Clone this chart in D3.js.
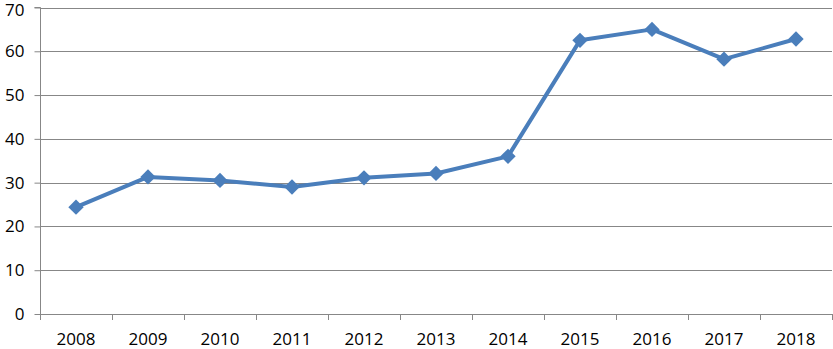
<!DOCTYPE html>
<html><head><meta charset="utf-8">
<script src="https://cdn.jsdelivr.net/npm/d3@7"></script>
<style>body{margin:0;background:#fff}svg{display:block}</style>
</head><body>
<svg id="c" width="833" height="349"></svg>
<script>
const years = ["2008","2009","2010","2011","2012","2013","2014","2015","2016","2017","2018"];
const values = [24.4, 31.3, 30.5, 29.0, 31.1, 32.1, 36.0, 62.5, 65.0, 58.2, 62.8];
const yTicks = [0,10,20,30,40,50,60,70];

(function(){
const svg = d3.select("#c");
const mLeft = 40, mRight = 832, mTop = 7.5, mBottom = 314;
const x = d3.scaleBand().domain(years).range([mLeft, mRight]);
const y = d3.scaleLinear().domain([0,70]).range([mBottom, mTop]);
const font = "'Open Sans', sans-serif";
const grid = "#878787";
const fs = 17;

svg.append("g").selectAll("line").data(yTicks.slice(1)).join("line")
  .attr("x1", mLeft).attr("x2", mRight)
  .attr("y1", d => Math.round(y(d))+0.5).attr("y2", d => Math.round(y(d))+0.5)
  .attr("stroke", grid).attr("stroke-width", 1.2);

const ya = svg.append("g").attr("transform", `translate(${mLeft+0.5},0)`)
  .call(d3.axisLeft(y).tickValues(yTicks).tickSize(6).tickPadding(10));
ya.select(".domain").attr("stroke", grid).attr("d", `M-6,${y(70)}H0V${mBottom}`);
ya.selectAll(".tick line").attr("stroke", grid);
ya.selectAll(".tick text").attr("font-family", font).attr("font-size", fs).attr("fill", "#000")
  .filter(d => d === 70).attr("dy", "0.45em");

const xa = svg.append("g").attr("transform", `translate(0,${Math.round(mBottom)+0.5})`)
  .call(d3.axisBottom(x).tickSize(0).tickPadding(18));
xa.select(".domain").attr("stroke", grid).attr("stroke-width", 1.2).attr("d", `M${mLeft},0H${mRight}`);
xa.selectAll(".tick text").attr("font-family", font).attr("font-size", fs).attr("fill", "#000");
const bounds = years.map(d => x(d)).concat([mRight]);
svg.append("g").selectAll("line").data(bounds).join("line")
  .attr("x1", d => Math.round(d)+0.5).attr("x2", d => Math.round(d)+0.5)
  .attr("y1", mBottom).attr("y2", mBottom+6).attr("stroke", grid);

const cx = d => x(d) + x.bandwidth()/2;
const line = d3.line().x((d,i) => cx(years[i])).y(d => y(d));
svg.append("path").datum(values).attr("d", line)
  .attr("fill", "none").attr("stroke", "#4a7ebb").attr("stroke-width", 4).attr("stroke-linejoin", "round");

svg.append("g").selectAll("path").data(values).join("path")
  .attr("d", d3.symbol().type(d3.symbolDiamond2).size(150))
  .attr("transform", (d,i) => `translate(${cx(years[i])},${y(d)})`)
  .attr("fill", "#4a7ebb");
})();
</script>
</body></html>
